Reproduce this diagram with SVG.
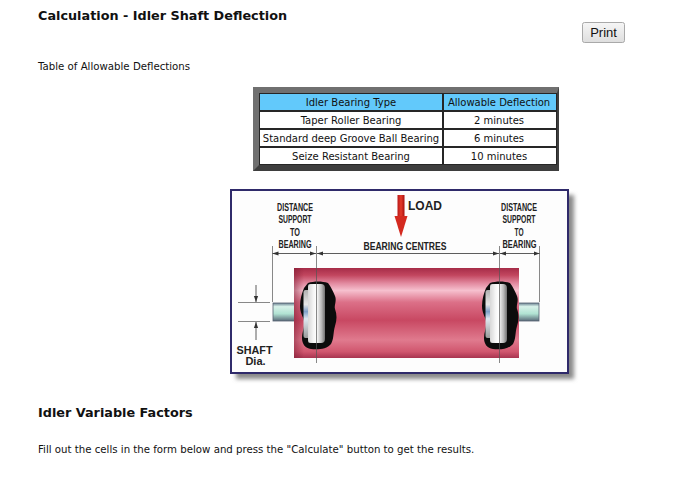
<svg xmlns="http://www.w3.org/2000/svg" width="675" height="489" viewBox="0 0 675 489">
<style>
.h{font-family:"DejaVu Sans",Verdana,sans-serif;font-weight:bold;font-size:12.8px;fill:#111}
.t{font-family:"DejaVu Sans",Verdana,sans-serif;font-size:10.2px;fill:#111}
.c{font-family:"DejaVu Sans",Verdana,sans-serif;font-size:10px;fill:#111;text-anchor:middle}
.n{font-family:"Liberation Sans",Arial,sans-serif;font-weight:bold;font-size:10px;fill:#222;text-anchor:middle}
.dim{stroke:#333;stroke-width:0.8;fill:none}
.ext{stroke:#555;stroke-width:0.7;fill:none}
.cell{fill:#fff}
</style>
<defs>
<linearGradient id="btn" x1="0" y1="0" x2="0" y2="1"><stop offset="0" stop-color="#f6f6f6"/><stop offset="1" stop-color="#dedede"/></linearGradient>
<linearGradient id="roll" x1="0" y1="0" x2="0" y2="1">
<stop offset="0" stop-color="#a62c48"/><stop offset="0.08" stop-color="#c2465f"/><stop offset="0.17" stop-color="#e28aa0"/><stop offset="0.25" stop-color="#f6c0ce"/><stop offset="0.38" stop-color="#dc7088"/><stop offset="0.58" stop-color="#c84862"/><stop offset="0.8" stop-color="#e07a8e"/><stop offset="0.93" stop-color="#d0566e"/><stop offset="1" stop-color="#a83450"/>
</linearGradient>
<linearGradient id="rollEnd" x1="0" y1="0" x2="1" y2="0"><stop offset="0" stop-color="#7a1a30" stop-opacity="0.5"/><stop offset="1" stop-color="#7a1a30" stop-opacity="0"/></linearGradient>
<linearGradient id="wheel" x1="0" y1="0" x2="1" y2="0"><stop offset="0" stop-color="#9a9a9a"/><stop offset="0.3" stop-color="#f4f4f4"/><stop offset="0.5" stop-color="#ffffff"/><stop offset="0.8" stop-color="#b8b8b8"/><stop offset="1" stop-color="#707070"/></linearGradient>
<linearGradient id="flange" x1="0" y1="0" x2="0" y2="1"><stop offset="0" stop-color="#b0b0b0"/><stop offset="0.3" stop-color="#e8e8e8"/><stop offset="0.45" stop-color="#7f9fc8"/><stop offset="0.6" stop-color="#dfe8f0"/><stop offset="1" stop-color="#9a9a9a"/></linearGradient>
<linearGradient id="shaft" x1="0" y1="0" x2="0" y2="1"><stop offset="0" stop-color="#6a8090"/><stop offset="0.2" stop-color="#d8f2ea"/><stop offset="0.6" stop-color="#b0e2d2"/><stop offset="1" stop-color="#5a6a78"/></linearGradient>
<linearGradient id="load" x1="0" y1="0" x2="1" y2="0"><stop offset="0" stop-color="#b81818"/><stop offset="0.5" stop-color="#e43a2a"/><stop offset="1" stop-color="#a81010"/></linearGradient>
<filter id="blur" x="-10%" y="-10%" width="120%" height="120%"><feGaussianBlur stdDeviation="2"/></filter>
<marker id="ah" viewBox="0 0 10 10" refX="10" refY="5" markerWidth="6" markerHeight="6" markerUnits="userSpaceOnUse" orient="auto-start-reverse"><path d="M0,1.5 L10,5 L0,8.5 Z" fill="#333"/></marker>
<g id="bearing">
<path d="M308,283 C314,281 322,281 328,283 C331,287 333,291 335,296 C337,301 334,305 335,309 C337,314 337,320 335,326 C333,333 334,339 331,344 C327,349 318,350 311,349 C305,348 302,344 302,338 C302,332 305,327 304,321 C303,316 300,313 300,306 C300,299 302,293 304,288 Z" fill="#0c0c0c"/>
<rect x="303.5" y="290" width="7" height="48" rx="2" fill="url(#flange)"/>
<rect x="308" y="284" width="17" height="59" rx="4" fill="url(#wheel)"/>
<rect x="308" y="284" width="5" height="59" rx="2" fill="#f2f2f2" opacity="0.7"/>
</g>
</defs>

<g id="page-text">
<text class="h" x="38" y="19.5">Calculation - Idler Shaft Deflection</text>
<text class="t" x="38" y="70">Table of Allowable Deflections</text>
<text class="h" x="38" y="416.5">Idler Variable Factors</text>
<text class="t" x="38" y="452.5">Fill out the cells in the form below and press the "Calculate" button to get the results.</text>
</g>

<g id="print-button">
<rect x="582.5" y="22.5" width="42" height="20" rx="2" fill="url(#btn)" stroke="#a9a9a9"/>
<text x="603.5" y="37" font-family="Liberation Sans, Arial, sans-serif" font-size="13" fill="#111" text-anchor="middle">Print</text>
</g>

<g id="table">
<rect x="253" y="87" width="306" height="84" fill="#707070"/>
<polygon points="253,171 559,171 559,87 557,93 557,165 259,165" fill="#3e3e3e"/>
<rect x="259" y="93" width="298" height="72" fill="#262626"/>
<rect x="260" y="94" width="182" height="16" fill="#62c9fb"/>
<rect x="444" y="94" width="112" height="16" fill="#62c9fb"/>
<rect class="cell" x="260" y="112" width="182" height="16"/>
<rect class="cell" x="444" y="112" width="112" height="16"/>
<rect class="cell" x="260" y="130" width="182" height="16"/>
<rect class="cell" x="444" y="130" width="112" height="16"/>
<rect class="cell" x="260" y="148" width="182" height="16"/>
<rect class="cell" x="444" y="148" width="112" height="16"/>
<text class="c" x="351" y="105.5">Idler Bearing Type</text>
<text class="c" x="499" y="105.5">Allowable Deflection</text>
<text class="c" x="351" y="123.5">Taper Roller Bearing</text>
<text class="c" x="499" y="123.5">2 minutes</text>
<text class="c" x="351" y="141.5">Standard deep Groove Ball Bearing</text>
<text class="c" x="499" y="141.5">6 minutes</text>
<text class="c" x="351" y="159.5">Seize Resistant Bearing</text>
<text class="c" x="499" y="159.5">10 minutes</text>
</g>

<g id="idler-picture">
<rect x="236" y="195" width="338" height="184" fill="#8a8a8a" filter="url(#blur)"/>
<rect x="231" y="190" width="337" height="183" fill="#fdfdfd" stroke="#2f2a6a" stroke-width="2"/>

<rect x="273" y="303" width="22" height="18" fill="url(#shaft)" stroke="#556070" stroke-width="0.8"/>
<rect x="518" y="303" width="21" height="18" fill="url(#shaft)" stroke="#556070" stroke-width="0.8"/>
<rect x="294" y="268" width="225" height="90" fill="url(#roll)"/>
<rect x="294" y="268" width="10" height="90" fill="url(#rollEnd)"/>
<use href="#bearing"/>
<use href="#bearing" transform="translate(182,0)"/>

<rect x="397.5" y="195" width="7" height="22" fill="url(#load)"/>
<path d="M394.5,216 L407.5,216 L401,237 Z" fill="#d42a20"/>
<text x="408" y="210" font-family="Liberation Sans, Arial, sans-serif" font-weight="bold" font-size="12" fill="#222">LOAD</text>

<g id="labels">
<text class="n" x="295" y="211" textLength="36" lengthAdjust="spacingAndGlyphs">DISTANCE</text>
<text class="n" x="295" y="223" textLength="33" lengthAdjust="spacingAndGlyphs">SUPPORT</text>
<text class="n" x="295" y="235.5" textLength="10" lengthAdjust="spacingAndGlyphs">TO</text>
<text class="n" x="295" y="248" textLength="33" lengthAdjust="spacingAndGlyphs">BEARING</text>
<text class="n" x="519" y="211" textLength="36" lengthAdjust="spacingAndGlyphs">DISTANCE</text>
<text class="n" x="519" y="223" textLength="33" lengthAdjust="spacingAndGlyphs">SUPPORT</text>
<text class="n" x="519" y="235.5" textLength="9" lengthAdjust="spacingAndGlyphs">TO</text>
<text class="n" x="519.5" y="248" textLength="34" lengthAdjust="spacingAndGlyphs">BEARING</text>
<text class="n" x="405" y="250" textLength="83" lengthAdjust="spacingAndGlyphs">BEARING CENTRES</text>
<text x="254.5" y="354" font-family="Liberation Sans, Arial, sans-serif" font-weight="bold" font-size="11" fill="#222" text-anchor="middle" textLength="36" lengthAdjust="spacingAndGlyphs">SHAFT</text>
<text x="255.5" y="365" font-family="Liberation Sans, Arial, sans-serif" font-weight="bold" font-size="11" fill="#222" text-anchor="middle">Dia.</text>
</g>

<g id="connectors">
<line class="ext" x1="272.5" y1="246" x2="272.5" y2="302"/>
<line class="ext" x1="316.5" y1="246" x2="316.5" y2="363"/>
<line class="ext" x1="499.5" y1="246" x2="499.5" y2="363"/>
<line class="ext" x1="539.5" y1="246" x2="539.5" y2="302"/>
<line class="dim" x1="272.5" y1="253.5" x2="316" y2="253.5" marker-start="url(#ah)" marker-end="url(#ah)"/>
<line class="dim" x1="317" y1="253.5" x2="499" y2="253.5" marker-start="url(#ah)" marker-end="url(#ah)"/>
<line class="dim" x1="500" y1="253.5" x2="539.5" y2="253.5" marker-start="url(#ah)" marker-end="url(#ah)"/>
<line class="ext" x1="238" y1="302.5" x2="270" y2="302.5"/>
<line class="ext" x1="238" y1="321.5" x2="270" y2="321.5"/>
<line class="dim" x1="256" y1="285" x2="256" y2="302" marker-end="url(#ah)"/>
<line class="dim" x1="256" y1="340" x2="256" y2="322" marker-end="url(#ah)"/>
</g>
</g>
</svg>
